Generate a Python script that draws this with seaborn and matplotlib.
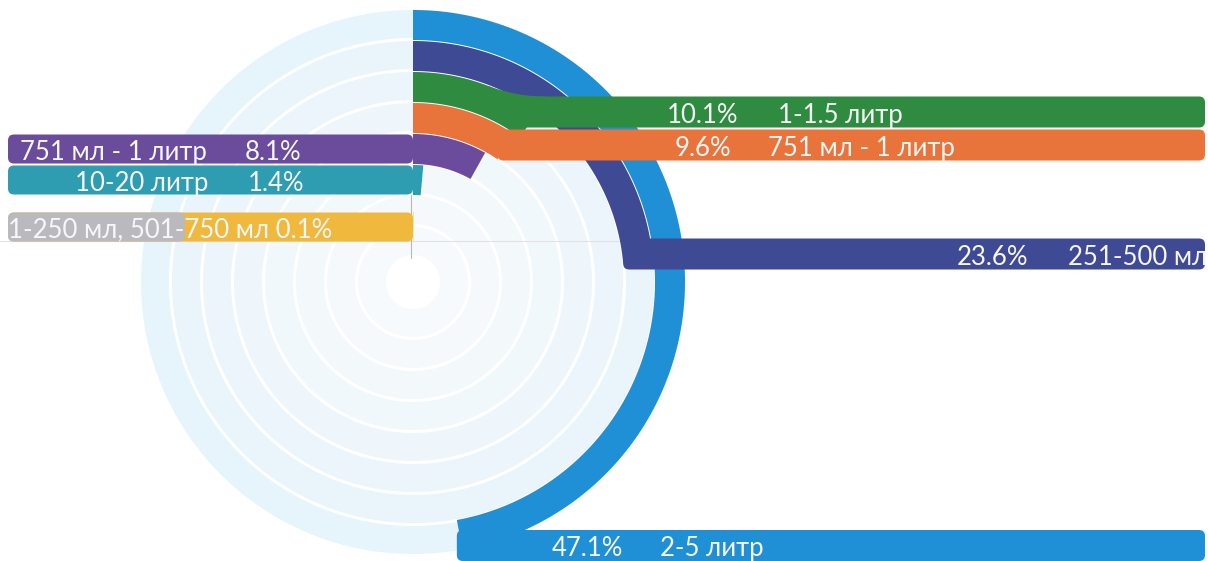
import numpy as np
import matplotlib
matplotlib.use('Agg')
import matplotlib.pyplot as plt
import seaborn as sns
from matplotlib.patches import Polygon, FancyBboxPatch

# ---------------- data ----------------
categories = ['2-5 литр', '251-500 мл', '1-1.5 литр', '751 мл - 1 литр',
              '751 мл - 1 литр', '10-20 литр', '1-250 мл, 501-750 мл']
shares = [47.1, 23.6, 10.1, 9.6, 8.1, 1.4, 0.1]
pct_labels = ['47.1%', '23.6%', '10.1%', '9.6%', '8.1%', '1.4%', '0.1%']
colors = ['#1f8fd6', '#3f4a95', '#2f8b40', '#e8733b', '#6b4b9c', '#2e9db2', '#f0b83c']
gray_part_color = '#bababe'
sides = ['right', 'right', 'right', 'right', 'left', 'left', 'left']

# ---------------- layout ----------------
sns.set_theme(style='white')
plt.rcParams['font.family'] = ['Lato', 'DejaVu Sans']
palette = sns.color_palette(colors)

W, H = 1208, 561
CX, CY = 413, 282
outer_r = [272, 241, 210, 179, 148, 117, 70]
band = 30
right_bar_y = [545.5, 254, 112, 145]      # centre of horizontal bars on the right
bar_right_end = 1205
bar_left_start = 8

fig = plt.figure(figsize=(W / 100, H / 100), dpi=100)
ax = fig.add_axes([0, 0, 1, 1])
ax.set_xlim(0, W)
ax.set_ylim(H, 0)
ax.set_aspect('equal')
ax.axis('off')


def pt(r, t):
    return CX + r * np.sin(t), CY - r * np.cos(t)


def annulus(ro, ri, t0, t1, n=200):
    t = np.linspace(t0, t1, n)
    xo, yo = pt(ro, t)
    xi, yi = pt(ri, t[::-1])
    return np.column_stack([np.r_[xo, xi], np.r_[yo, yi]])


# pale background tracks
track_r = [272, 241, 210, 179, 148, 117, 86, 55]
track_c = ['#e6f5fb', '#e9f5fb', '#ebf5fb', '#eef6fb', '#f1f8fc', '#f3f8fb', '#f5f9fc', '#f7fafc']
for ro, c in zip(track_r, track_c):
    ax.add_patch(Polygon(annulus(ro, ro - band + 2, 0, 2 * np.pi, 400),
                         closed=True, facecolor=c, edgecolor='none', zorder=1))

# faint guide lines
ax.plot([0, 640], [241, 241], color='#e2e2e2', lw=0.8, zorder=1.5)
ax.plot([CX - 2, CX - 2], [195, 258], color='#b8b8b8', lw=0.8, zorder=1.5)

txt_kw = dict(color='#f7f7f7', fontsize=18.5, va='center', zorder=100)

right_text = {0: (552, 660), 1: (957, 1068), 2: (667, 778), 3: (675, 768)}
left_text = {4: (20, 245), 5: (75, 248)}

z = 2
for i, (cat, val) in enumerate(zip(categories, shares)):
    ro = outer_r[i]
    ri = ro - band
    theta = 2 * np.pi * val / 100.0
    col = palette[i]
    ax.add_patch(Polygon(annulus(ro, ri, 0, theta), closed=True,
                         facecolor=col, edgecolor='none', zorder=z))
    z += 1
    if sides[i] == 'right':
        yc = right_bar_y[i]
        y_top = yc - band / 2 - 0.5
        x_inner, _ = pt(ri, theta)
        dy = CY - y_top
        x_meet = CX + np.sqrt(max(ro ** 2 - dy ** 2, 0.0))
        if x_meet < x_inner:
            x_start = x_meet - 7
            # smooth fillet between the arc's outer edge and the bar's top edge
            tm = np.arcsin((x_meet - CX) / ro)
            ta = tm - np.radians(7)
            A = np.array(pt(ro, ta))
            tang = np.array([np.cos(ta), np.sin(ta)])
            s = (y_top - A[1]) / tang[1]
            C = A + s * tang
            B = np.array([C[0] + s, y_top])
            u = np.linspace(0, 1, 60)[:, None]
            curve = (1 - u) ** 2 * A + 2 * (1 - u) * u * C + u ** 2 * B
            P_in = np.array(pt(ro - 12, tm))
            fillet = np.vstack([curve, [B[0], y_top + 8], P_in])
            ax.add_patch(Polygon(fillet, closed=True, facecolor=col,
                                 edgecolor='none', zorder=z))
        else:
            x_start = x_inner
        ax.add_patch(FancyBboxPatch((x_start, y_top), bar_right_end - x_start, band + 1,
                                    boxstyle='round,pad=0,rounding_size=6',
                                    facecolor=col, edgecolor='none', zorder=z))
        xp, xn = right_text[i]
        ax.text(xp, yc + 3, pct_labels[i], **txt_kw)
        ax.text(xn, yc + 3, cat, **txt_kw)
    else:
        yc = CY - (ro - band / 2)
        ax.add_patch(FancyBboxPatch((bar_left_start, yc - band / 2 + 0.5),
                                    CX - bar_left_start, band - 1,
                                    boxstyle='round,pad=0,rounding_size=6',
                                    facecolor=col, edgecolor='none', zorder=z))
        if i == 6:
            ax.add_patch(FancyBboxPatch((bar_left_start, yc - band / 2 + 0.5),
                                        185 - bar_left_start, band - 1,
                                        boxstyle='round,pad=0,rounding_size=6',
                                        facecolor=gray_part_color, edgecolor='none',
                                        zorder=z + 0.5))
            ax.text(8, yc + 3, cat + ' ' + pct_labels[i], **txt_kw)
        else:
            xn, xp = left_text[i]
            ax.text(xn, yc + 3, cat, **txt_kw)
            ax.text(xp, yc + 3, pct_labels[i], **txt_kw)
    z += 1

fig.savefig('out.png', dpi=100, facecolor='white')
